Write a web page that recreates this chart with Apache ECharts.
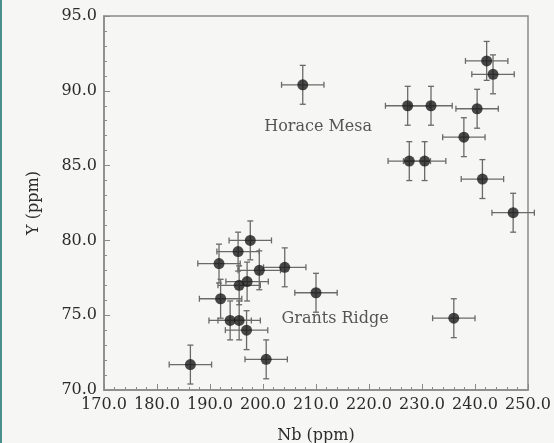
<!DOCTYPE html>
<html>
<head>
<meta charset="utf-8">
<script src="https://cdn.jsdelivr.net/npm/echarts@6/dist/echarts.min.js"></script>
<style>
html,body{margin:0;padding:0;background:#f6f6f4;}
#wrap{position:relative;width:554px;height:443px;background:#f6f6f4;}
#strip{position:absolute;left:0;top:0;width:2px;height:443px;background:#4a8f8c;}
#chart{position:absolute;left:0;top:0;width:554px;height:443px;}
</style>
</head>
<body>
<div id="wrap"><div id="chart"></div><div id="strip"></div></div>
<script>
// Data
var nb = [207.5, 242.2, 243.4, 227.3, 231.7, 240.4, 237.9, 227.6, 230.5, 241.4, 247.2, 236.0,
          186.3, 200.6, 196.9, 193.8, 195.5, 192.0, 210.0, 195.5, 197.0, 199.3, 204.1, 191.7, 195.3, 197.6];
var yv = [90.4, 92.0, 91.1, 89.0, 89.0, 88.8, 86.9, 85.3, 85.3, 84.1, 81.85, 74.8,
          71.7, 72.05, 74.0, 74.65, 74.65, 76.1, 76.5, 77.0, 77.25, 78.0, 78.2, 78.45, 79.25, 80.0];
var nbErr = [4.0, 4.0, 4.0, 4.2, 4.0, 4.0, 4.0, 4.0, 4.0, 4.0, 4.0, 4.0,
             4.0, 4.0, 4.0, 4.0, 4.0, 4.0, 4.0, 4.0, 4.0, 4.0, 4.0, 4.0, 4.0, 4.0];
var yErr = [1.3, 1.3, 1.3, 1.3, 1.3, 1.3, 1.3, 1.3, 1.3, 1.3, 1.3, 1.3,
            1.3, 1.3, 1.3, 1.3, 1.3, 1.3, 1.3, 1.3, 1.3, 1.3, 1.3, 1.3, 1.3, 1.3];
var labels = [
  {text: 'Horace Mesa', x: 210.4, y: 87.6},
  {text: 'Grants Ridge', x: 213.6, y: 74.75}
];
var xTitle = 'Nb (ppm)';
var yTitle = 'Y (ppm)';

var pts = nb.map(function (v, i) { return [v, yv[i]]; });
var errData = nb.map(function (v, i) { return [v, yv[i], nbErr[i], yErr[i]]; });

var FONT = 'DejaVu Serif';
var TXT = '#2c2c2c';
var chart = echarts.init(document.getElementById('chart'), null, {renderer: 'canvas'});
chart.setOption({
  backgroundColor: 'transparent',
  animation: false,
  grid: {left: 104, right: 26, top: 16, bottom: 53, containLabel: false, outerBoundsMode: 'none',
    show: true, borderColor: '#8a8a8a', borderWidth: 1.5, backgroundColor: 'transparent'},
  xAxis: {
    type: 'value', min: 170, max: 250, interval: 10,
    name: xTitle, nameLocation: 'middle', nameGap: 38,
    nameTextStyle: {fontFamily: FONT, fontSize: 16, color: TXT},
    axisLine: {show: true, lineStyle: {color: '#8a8a8a', width: 1.5}},
    axisTick: {show: true, inside: true, length: 6, lineStyle: {color: '#8a8a8a'}},
    minorTick: {show: true, splitNumber: 5, length: 3, lineStyle: {color: '#8a8a8a'}},
    splitLine: {show: false},
    axisLabel: {fontFamily: FONT, fontSize: 16, color: TXT, margin: 7,
      formatter: function (v) { return v.toFixed(1); }}
  },
  yAxis: {
    type: 'value', min: 70, max: 95, interval: 5,
    name: yTitle, nameLocation: 'middle', nameGap: 62,
    nameTextStyle: {fontFamily: FONT, fontSize: 16, color: TXT},
    axisLine: {show: true, lineStyle: {color: '#8a8a8a', width: 1.5}},
    axisTick: {show: true, inside: true, length: 6, lineStyle: {color: '#8a8a8a'}},
    minorTick: {show: true, splitNumber: 5, length: 3, lineStyle: {color: '#8a8a8a'}},
    splitLine: {show: false},
    axisLabel: {fontFamily: FONT, fontSize: 16, color: TXT, margin: 7,
      formatter: function (v) { return v.toFixed(1); }}
  },
  series: [
    {
      type: 'custom',
      data: errData,
      z: 2,
      renderItem: function (params, api) {
        var x = api.value(0), y = api.value(1), ex = api.value(2), ey = api.value(3);
        var l = api.coord([x - ex, y]), r = api.coord([x + ex, y]);
        var t = api.coord([x, y + ey]), b = api.coord([x, y - ey]);
        var cap = 3;
        var st = {stroke: '#6a6a6a', lineWidth: 1.3, fill: null};
        return {
          type: 'group',
          children: [
            {type: 'line', shape: {x1: l[0], y1: l[1], x2: r[0], y2: r[1]}, style: st},
            {type: 'line', shape: {x1: t[0], y1: t[1], x2: b[0], y2: b[1]}, style: st},
            {type: 'line', shape: {x1: l[0], y1: l[1] - cap, x2: l[0], y2: l[1] + cap}, style: st},
            {type: 'line', shape: {x1: r[0], y1: r[1] - cap, x2: r[0], y2: r[1] + cap}, style: st},
            {type: 'line', shape: {x1: t[0] - cap, y1: t[1], x2: t[0] + cap, y2: t[1]}, style: st},
            {type: 'line', shape: {x1: b[0] - cap, y1: b[1], x2: b[0] + cap, y2: b[1]}, style: st}
          ]
        };
      }
    },
    {
      type: 'scatter',
      data: pts,
      z: 3,
      symbol: 'circle',
      symbolSize: 11,
      itemStyle: {color: '#1c1c1c'}
    },
    {
      type: 'scatter',
      data: labels.map(function (d) { return {value: [d.x, d.y], label: {formatter: d.text}}; }),
      symbolSize: 0,
      z: 4,
      label: {show: true, position: 'inside', fontFamily: FONT, fontSize: 16, color: TXT},
      silent: true
    }
  ]
});
</script>
</body>
</html>
